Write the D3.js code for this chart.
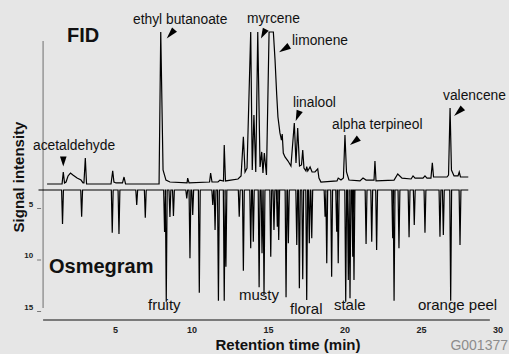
<!DOCTYPE html>
<html>
<head>
<meta charset="utf-8">
<script src="https://cdn.jsdelivr.net/npm/d3@7"></script>
<style>
  body { margin: 0; background: #e6e6e6; }
  svg { display: block; }
  text { font-family: "Liberation Sans", Arial, Helvetica, sans-serif; }
</style>
</head>
<body>
<svg id="chart" width="509" height="354"></svg>
<script>
// FID trace (retention time in min, signal in % of full scale)
const fidTime = [0.56,1.54,1.62,1.70,1.80,1.93,2.09,2.25,2.52,2.78,2.91,2.97,3.06,3.14,4.74,4.85,4.93,5.07,5.49,5.59,5.69,
  7.88,7.99,8.14,8.33,8.59,9.71,9.75,9.84,11.18,11.25,11.34,11.73,11.86,12.09,12.14,12.22,13.04,13.24,13.39,13.50,13.63,
  13.87,13.97,14.08,14.20,14.33,14.48,14.59,14.67,14.76,14.90,15.07,15.35,15.46,15.57,15.65,15.78,15.88,15.93,16.00,16.11,
  16.31,16.50,16.72,16.83,16.94,17.06,17.19,17.27,17.35,17.48,17.53,17.60,17.75,17.88,18.07,18.25,18.33,18.46,19.51,19.59,
  19.77,19.93,20.03,20.13,20.29,21.01,21.21,21.41,21.93,21.99,22.06,23.24,23.48,23.76,24.35,24.48,24.61,25.13,25.26,25.39,
  25.65,25.74,25.82,26.70,26.80,26.90,26.99,27.16,27.42,27.50,27.58,28.09];
const fidSignal = [0,0,7.9,0.7,1.3,5.3,7.2,5.9,3.9,2.6,0.7,0.7,17.1,0,0,8.6,1.3,0.7,0.7,4.6,0,
  0,100,9.2,2.6,1.3,0.7,3.9,0.7,1.3,7.2,1.3,1.3,2.6,2.0,25.7,2.0,3.3,5.3,31.1,7.9,10.5,
  100,9.2,45.4,7.9,100,11.2,21.1,7.2,20.4,5.9,100,100,81.6,58.6,44.1,33.6,28.9,32.9,20.4,17.8,
  15.1,11.8,40.1,13.8,36.8,11.8,12.5,22.4,10.5,8.6,11.5,8.6,11.2,7.9,7.9,9.9,3.9,1.3,2.0,3.9,
  2.6,3.9,32.2,7.9,2.6,2.0,3.9,2.6,2.6,15.1,2.0,2.6,6.6,3.9,3.3,5.3,3.9,3.9,5.3,3.9,
  3.9,14.0,4.6,4.6,5.9,50.0,9.2,5.3,5.3,7.9,4.6,4.6];

// Osmegram peaks (retention time in min, intensity)
const osmTime = [1.57,2.82,4.82,5.26,6.42,6.98,8.24,8.35,8.59,8.82,9.69,9.90,10.08,10.51,11.39,11.54,11.76,12.14,12.25,
  13.12,13.39,13.87,14.04,14.42,14.61,14.74,15.18,15.39,15.61,15.70,16.18,16.33,16.88,17.05,17.27,17.53,17.70,17.86,
  18.73,18.84,19.16,19.49,19.59,20.08,20.25,20.36,20.54,20.62,21.41,21.78,22.10,23.15,23.24,23.56,24.22,24.56,25.26,
  26.24,26.46,26.94,27.55];
const osmIntensity = [6.55,5.84,7.40,7.52,4.71,5.94,7.33,14.10,5.87,5.78,4.06,9.88,5.68,13.22,4.71,7.14,14.0,14.0,10.70,
  5.84,11.09,8.91,8.27,12.70,9.40,13.45,9.73,7.14,6.82,8.11,13.67,8.43,8.59,12.80,11.92,13.93,8.43,7.94,
  5.84,10.37,11.67,7.30,10.37,14.10,11.99,13.77,9.73,11.99,8.50,8.27,9.08,7.94,14.0,8.91,7.84,6.65,7.40,
  7.79,7.62,14.0,8.59];
const osmBaseline = 3.25;
const osmRange = [0, 28.09];

// compound annotations on the FID trace (arrow tip in data units)
const compounds = ["acetaldehyde","ethyl butanoate","myrcene","limonene","linalool","alpha terpineol","valencene"];
const compoundTime = [1.62, 8.38, 14.54, 15.72, 16.81, 20.36, 27.16];
const compoundSignal = [11.5, 95.8, 95.8, 86.6, 41.4, 25.7, 44.7];

// odour descriptors on the osmegram (text anchor in data units)
const odours = ["fruity","musty","floral","stale","orange peel"];
const odourTime = [7.16, 13.10, 16.44, 19.31, 24.80];
const odourIntensity = [14.90, 13.93, 15.29, 14.90, 14.90];

const xTicks = [5,10,15,20,25,30];
const osmTicks = [5,10,15];

const svg = d3.select("#chart");

const x = d3.scaleLinear().domain([0, 30]).range([38.5, 497.5]);
const yFid = d3.scaleLinear().domain([0, 100]).range([184, 32]);
const yOsm = d3.scaleLinear().domain([5, 15]).range([208, 311]);

// layout of the annotation arrows / labels, in px relative to the tip
const compLayout = [
  {lx:-30.3, ly:-16.5, bx:0,   by:-10},
  {lx:-33.7, ly:-14.3, bx:7.8, by:-8.8},
  {lx:-14,   ly:-15,   bx:4.8, by:-9.1},
  {lx:13,    ly:-7.3,  bx:10.2,by:-6.5},
  {lx:-2.7,  ly:-14.3, bx:4,   by:-10.2},
  {lx:-18,   ly:-15.7, bx:8.8, by:-6.7},
  {lx:-11,   ly:-16,   bx:8.8, by:-8.2}
];

// axes lines
svg.append("line")
  .attr("x1", x(0.3)).attr("x2", x(0.3))
  .attr("y1", yFid(94)).attr("y2", yOsm(14.7))
  .attr("stroke", "#8a8a8a").attr("stroke-width", 1.3);

svg.append("line")
  .attr("x1", x(0.3)).attr("x2", x(29.5))
  .attr("y1", 320).attr("y2", 320)
  .attr("stroke", "#7a7a7a").attr("stroke-width", 2);

// x tick labels
const xAxis = svg.append("g")
  .attr("transform", "translate(0,320)")
  .call(d3.axisBottom(x).tickValues(xTicks).tickSize(0).tickPadding(7));
xAxis.select(".domain").remove();
xAxis.selectAll("text")
  .attr("font-size", 9).attr("font-weight", "bold")
  .attr("font-family", "Liberation Sans, Arial, sans-serif").attr("fill", "#222");

// osmegram y ticks
const yAxis = svg.append("g")
  .attr("transform", `translate(${x(0.3) - 2},0)`)
  .call(d3.axisLeft(yOsm).tickValues(osmTicks).tickSize(4).tickPadding(4));
yAxis.select(".domain").remove();
yAxis.selectAll("line").attr("stroke", "#777");
yAxis.selectAll("text")
  .attr("font-size", 8).attr("font-weight", "bold").attr("dy", "-0.25em")
  .attr("font-family", "Liberation Sans, Arial, sans-serif").attr("fill", "#222");

// FID trace
const fidLine = d3.line().x(d => x(d[0])).y(d => yFid(d[1]));
svg.append("path")
  .datum(d3.zip(fidTime, fidSignal))
  .attr("fill", "none").attr("stroke", "#000").attr("stroke-width", 1.2)
  .attr("stroke-linejoin", "miter")
  .attr("d", fidLine);

// osmegram: downward spikes from a common baseline
const halfWidth = 0.06;
const osmPts = [[osmRange[0], osmBaseline]];
d3.zip(osmTime, osmIntensity).forEach(([t, v]) => {
  osmPts.push([t - halfWidth, osmBaseline], [t, v], [t + halfWidth, osmBaseline]);
});
osmPts.push([osmRange[1], osmBaseline]);
const osmLine = d3.line().x(d => x(d[0])).y(d => yOsm(d[1]));
svg.append("path")
  .datum(osmPts)
  .attr("fill", "none").attr("stroke", "#000").attr("stroke-width", 1.2)
  .attr("d", osmLine);

// compound labels and arrowheads
compounds.forEach((name, i) => {
  const tx = x(compoundTime[i]), ty = yFid(compoundSignal[i]);
  const L = compLayout[i];
  const len = Math.hypot(L.bx, L.by);
  const nx = -L.by / len * 3.3, ny = L.bx / len * 3.3;
  svg.append("path")
    .attr("d", `M${tx},${ty}L${tx + L.bx + nx},${ty + L.by + ny}L${tx + L.bx - nx},${ty + L.by - ny}Z`)
    .attr("fill", "#000");
  svg.append("text")
    .attr("x", tx + L.lx).attr("y", ty + L.ly)
    .attr("font-size", 13.8).attr("fill", "#111")
    .text(name);
});

// odour descriptors
odours.forEach((name, i) => {
  svg.append("text")
    .attr("x", x(odourTime[i])).attr("y", yOsm(odourIntensity[i]))
    .attr("font-size", 15).attr("fill", "#111")
    .text(name);
});

// panel titles
svg.append("text").attr("x", 67).attr("y", 42)
  .attr("font-size", 20).attr("font-weight", "bold").attr("fill", "#111").text("FID");
svg.append("text").attr("x", 49).attr("y", 273)
  .attr("font-size", 20).attr("font-weight", "bold").attr("fill", "#111").text("Osmegram");

// axis titles
svg.append("text")
  .attr("transform", "translate(24,177) rotate(-90)")
  .attr("text-anchor", "middle")
  .attr("font-size", 15).attr("font-weight", "bold").attr("fill", "#111")
  .text("Signal intensity");
svg.append("text")
  .attr("x", 288).attr("y", 350)
  .attr("text-anchor", "middle")
  .attr("font-size", 15).attr("font-weight", "bold").attr("fill", "#111")
  .text("Retention time (min)");

svg.append("text")
  .attr("x", 508).attr("y", 350)
  .attr("text-anchor", "end")
  .attr("font-size", 14).attr("fill", "#8c8c8c")
  .text("G001377");
</script>
</body>
</html>
